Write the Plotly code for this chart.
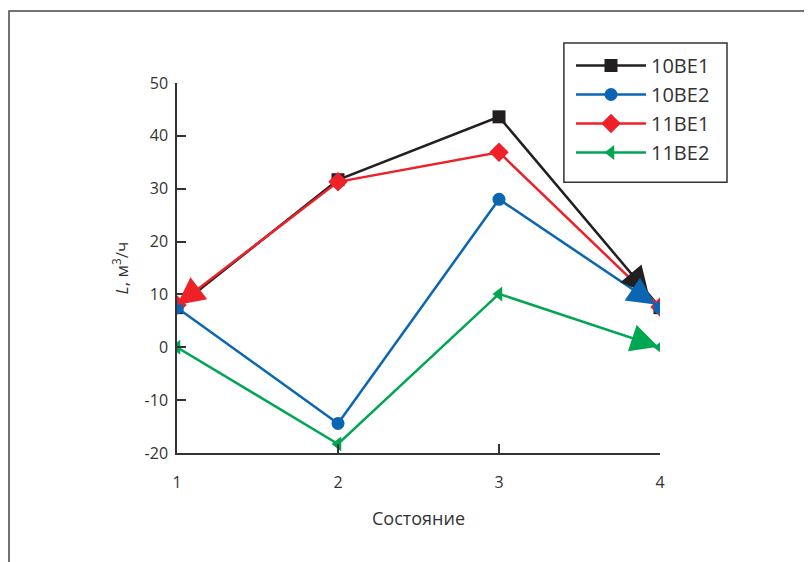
import plotly.graph_objects as go

states = [1, 2, 3, 4]
s_10be1 = [7.5, 31.7, 43.6, 7.5]
s_10be2 = [7.5, -14.4, 28.0, 7.5]
s_11be1 = [8.0, 31.3, 36.9, 7.6]
s_11be2 = [0.0, -18.3, 10.1, 0.0]

names = ["10BE1", "10BE2", "11BE1", "11BE2"]
colors = ["#231f20", "#0a66b3", "#ee2129", "#00a651"]
symbols = ["square", "circle", "diamond", "triangle-left"]
msizes = [13, 13, 15, 13]
series = [s_10be1, s_10be2, s_11be1, s_11be2]
draw_order = [0, 2, 1, 3]

fig = go.Figure()
for i in draw_order:
    fig.add_trace(go.Scatter(x=states, y=series[i], name=names[i], mode="lines+markers",
                             legendrank=i + 1,
                             line=dict(color=colors[i], width=2.5),
                             marker=dict(symbol=symbols[i], size=msizes[i], color=colors[i])))

# arrowheads along segments: (series index, from idx, to idx, fraction of tip)
arrows = [(0, 2, 3, 0.93), (1, 2, 3, 0.97), (2, 1, 0, 1.0), (3, 2, 3, 0.99)]
for si, a, b, f in arrows:
    ys = series[si]
    x0, y0, x1, y1 = states[a], ys[a], states[b], ys[b]
    tx, ty = x0 + f * (x1 - x0), y0 + f * (y1 - y0)
    bx, by = x0 + (f - 0.12) * (x1 - x0), y0 + (f - 0.12) * (y1 - y0)
    fig.add_annotation(x=tx, y=ty, ax=bx, ay=by, xref="x", yref="y", axref="x", ayref="y",
                       text="", showarrow=True, arrowhead=2, arrowsize=2.2, arrowwidth=2.5,
                       arrowcolor=colors[si], standoff=0)

# outer frame
fig.add_shape(type="rect", xref="paper", yref="paper", x0=-0.3478, y0=-0.6, x1=1.6, y1=1.1946,
              line=dict(color="#444", width=1.5), layer="below")
# legend box
fig.add_shape(type="rect", xref="paper", yref="paper", x0=0.801, y0=0.732, x1=1.1387, y1=1.108,
              line=dict(color="#333", width=1.5), fillcolor="white", layer="below")

font = "Open Sans, Noto Sans, sans-serif"
yt = [-20, -10, 0, 10, 20, 30, 40, 50]
fig.update_layout(
    width=804, height=554,
    margin=dict(l=169, r=152, t=75, b=109),
    paper_bgcolor="white", plot_bgcolor="rgba(0,0,0,0)",
    font=dict(family=font, size=16, color="#333"),
    showlegend=True,
    legend=dict(x=0.8157, y=1.1, xanchor="left", yanchor="top",
                borderwidth=0, bgcolor="rgba(0,0,0,0)",
                font=dict(size=20, color="#333"), itemwidth=70),
    xaxis=dict(range=[1, 4], tickvals=states, ticktext=[str(s) for s in states],
               showgrid=False, zeroline=False, showline=True, linecolor="#333", linewidth=1.5,
               ticks="inside", ticklen=9, tickcolor="#333", tickwidth=1.5,
               ticklabelstandoff=14,
               title=dict(text="Состояние", font=dict(size=18, color="#333"), standoff=20)),
    yaxis=dict(range=[-20, 50], tickvals=yt, ticktext=[str(v) for v in yt],
               showgrid=False, zeroline=False, showline=True, linecolor="#333", linewidth=1.5,
               ticks="inside", ticklen=9, tickcolor="#333", tickwidth=1.5,
               ticklabelstandoff=4,
               title=dict(text="<i>L</i>, м<sup>3</sup>/ч", font=dict(size=17, color="#333"), standoff=12)),
)

fig.write_html("out.html")
